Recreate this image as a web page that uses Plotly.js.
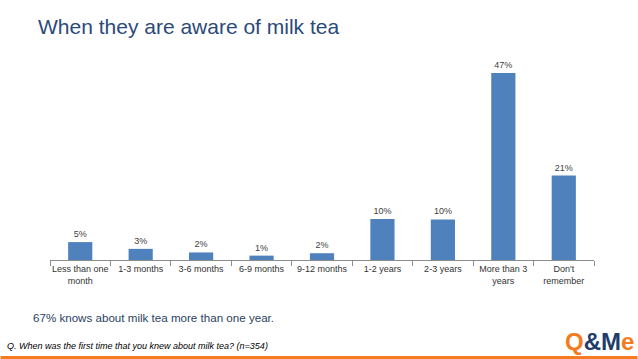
<!DOCTYPE html>
<html>
<head>
<meta charset="utf-8">
<script src="https://cdn.plot.ly/plotly-3.0.1.min.js"></script>
<style>
html,body{margin:0;padding:0;background:#fff;}
#chart{width:638px;height:359px;}
</style>
</head>
<body>
<div id="chart"></div>
<script>
const categories = ["Less than one<br>month", "1-3 months", "3-6 months", "6-9 months", "9-12 months", "1-2 years", "2-3 years", "More than 3<br>years", "Don't<br>remember"];
const values = [4.5, 2.8, 1.9, 1.1, 1.7, 10.3, 10.2, 47.0, 21.2];
const labels = values.map(v => Math.round(v) + "%");

const titleText = "When they are aware of milk tea";
const noteText = "67% knows about milk tea more than one year.";
const questionText = "Q. When was the first time that you knew about milk tea? (n=354)";

const trace = {
  type: "bar",
  x: categories,
  y: values,
  text: labels,
  textposition: "outside",
  cliponaxis: false,
  textfont: {family: "Liberation Sans, Arial, sans-serif", size: 9, color: "#404040"},
  marker: {color: "#4F81BD"},
  hoverinfo: "skip"
};

const layout = {
  width: 638, height: 359,
  margin: {l: 49.5, r: 43.5, t: 61, b: 99},
  paper_bgcolor: "#ffffff", plot_bgcolor: "#ffffff",
  bargap: 0.6,
  showlegend: false,
  font: {family: "Liberation Sans, Arial, sans-serif"},
  title: {
    text: titleText,
    x: 38/638, xanchor: "left", xref: "container",
    y: 1 - 27/359, yanchor: "middle", yref: "container",
    font: {family: "Liberation Sans, Arial, sans-serif", size: 21, color: "#2B4A7A"}
  },
  xaxis: {
    showline: true, linecolor: "#8c8c8c", linewidth: 1,
    ticks: "outside", ticklen: 5, tickcolor: "#8c8c8c",
    tickangle: 0,
    tickson: "boundaries",
    tickfont: {family: "Liberation Sans, Arial, sans-serif", size: 9, color: "#333333"},
    showgrid: false, zeroline: false, fixedrange: true
  },
  yaxis: {
    range: [0, 50], visible: false, showgrid: false, zeroline: false, fixedrange: true
  },
  annotations: [
    {text: noteText, xref: "paper", yref: "paper", x: (30-49.5)/545, y: (359-99-317)/199,
     xanchor: "left", yanchor: "middle", showarrow: false,
     font: {family: "Liberation Sans, Arial, sans-serif", size: 11.6, color: "#2B3F5F"}},
    {text: "<i>" + questionText + "</i>", xref: "paper", yref: "paper", x: (4-49.5)/545, y: (359-99-346)/199,
     xanchor: "left", yanchor: "middle", showarrow: false,
     font: {family: "Liberation Sans, Arial, sans-serif", size: 9, color: "#000000"}},
    {text: "<b><span style='color:#F47B20'>Q</span>&amp;M<span style='color:#F47B20'>e</span></b>", xref: "paper", yref: "paper",
     x: (637-49.5)/545, y: (359-99-341)/199, xanchor: "right", yanchor: "middle", showarrow: false,
     font: {family: "Liberation Sans, Arial, sans-serif", size: 24, color: "#1F3D6B"}}
  ],
  shapes: [
    {type: "rect", xref: "paper", yref: "paper", x0: -49.5/545, x1: (638-49.5)/545,
     y0: (359-99-359)/199, y1: (359-99-356)/199, fillcolor: "#F47B20", line: {width: 0}}
  ]
};

Plotly.newPlot("chart", [trace], layout, {displayModeBar: false, staticPlot: true});
</script>
</body>
</html>
